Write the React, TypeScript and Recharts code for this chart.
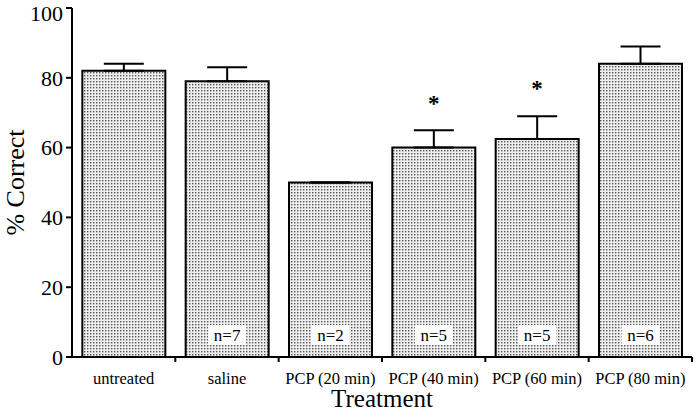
import React from 'react';
import { ComposedChart, Bar, XAxis, YAxis, ErrorBar, Scatter, LabelList } from 'recharts';

const categories = ['untreated', 'saline', 'PCP (20 min)', 'PCP (40 min)', 'PCP (60 min)', 'PCP (80 min)'];
const means = [82, 79, 50, 60, 62.5, 84];
const upperErrors = [2, 4, 0, 5, 6.5, 5];
const starValues: (number | null)[] = [null, null, null, 73.5, 78, null];
const nLabels: (string | null)[] = [null, 'n=7', 'n=2', 'n=5', 'n=5', 'n=6'];
const yTicks = [0, 20, 40, 60, 80, 100];

const data = categories.map((c, i) => ({
  name: c,
  mean: means[i],
  err: [0, upperErrors[i]],
  star: starValues[i],
  n: nLabels[i],
}));

const FONT = '"Liberation Serif", "Times New Roman", serif';
const W = 696;
const H = 412;
const MARGIN = { top: 8, right: 4, bottom: 0, left: 0 };
const Y_W = 72;
const X_H = 55;

const XTick = (props: any) => {
  const { x, payload } = props;
  const bw = (W - Y_W - MARGIN.right - MARGIN.left) / categories.length;
  const axisY = H - X_H;
  return (
    <g>
      <line x1={x + bw / 2} x2={x + bw / 2} y1={axisY} y2={axisY + 5} stroke="#000" strokeWidth={2} />
      <text x={x} y={axisY + 27} textAnchor="middle" fontFamily={FONT} fontSize={16.5} fill="#000">
        {payload.value}
      </text>
    </g>
  );
};

const StarShape = (props: any) => {
  const { cx, cy, payload } = props;
  if (payload == null || payload.star == null || !isFinite(cy)) return null;
  return (
    <text x={cx} y={cy + 11} textAnchor="middle" fontFamily={FONT} fontSize={23} fontWeight="bold" fill="#000">
      *
    </text>
  );
};

const NLabel = (props: any) => {
  const { x, y, width, height, value } = props;
  if (!value) return null;
  const cx = x + width / 2;
  const cy = y + height - 22;
  return (
    <g>
      <rect x={cx - 19} y={cy - 10} width={38} height={20} fill="#fff" />
      <text x={cx} y={cy + 6} textAnchor="middle" fontFamily={FONT} fontSize={17} fill="#000">
        {value}
      </text>
    </g>
  );
};

const XTitle = (props: any) => {
  const vb = props.viewBox || {};
  return (
    <text x={vb.x + vb.width / 2} y={H - 5} textAnchor="middle" fontFamily={FONT} fontSize={25} fill="#000">
      Treatment
    </text>
  );
};

const YTitle = (props: any) => {
  const vb = props.viewBox || {};
  const cy = vb.y + vb.height / 2;
  const cx = 15;
  return (
    <text
      x={cx}
      y={cy}
      transform={`rotate(-90 ${cx} ${cy})`}
      textAnchor="middle"
      dominantBaseline="central"
      fontFamily={FONT}
      fontSize={26}
      fill="#000"
    >
      % Correct
    </text>
  );
};

export default function App() {
  return (
    <div style={{ position: 'absolute', left: 0, top: 0, width: W, height: H, background: '#fff' }}>
      <ComposedChart width={W} height={H} data={data} margin={MARGIN} barCategoryGap="10%">
        <defs>
          <pattern id="dots" width="3" height="3" patternUnits="userSpaceOnUse">
            <rect x="0" y="0" width="3" height="3" fill="#eeeeee" />
            <rect x="0" y="0" width="1.4" height="1.4" fill="#555" />
          </pattern>
        </defs>
        <XAxis
          dataKey="name"
          height={X_H}
          axisLine={{ stroke: '#000', strokeWidth: 2 }}
          tickLine={false}
          tick={<XTick />}
          interval={0}
          label={<XTitle />}
        />
        <YAxis
          domain={[0, 100]}
          ticks={yTicks}
          width={Y_W}
          axisLine={{ stroke: '#000', strokeWidth: 2 }}
          tickLine={{ stroke: '#000', strokeWidth: 2 }}
          tickSize={6}
          tickMargin={3}
          tick={{ fontFamily: FONT, fontSize: 22, fill: '#000' }}
          label={<YTitle />}
        />
        <Bar dataKey="mean" fill="url(#dots)" stroke="#000" strokeWidth={2} isAnimationActive={false}>
          <ErrorBar dataKey="err" width={20} stroke="#000" strokeWidth={2} direction="y" />
          <LabelList dataKey="n" content={<NLabel />} />
        </Bar>
        <Scatter dataKey="star" shape={<StarShape />} isAnimationActive={false} />
      </ComposedChart>
    </div>
  );
}
